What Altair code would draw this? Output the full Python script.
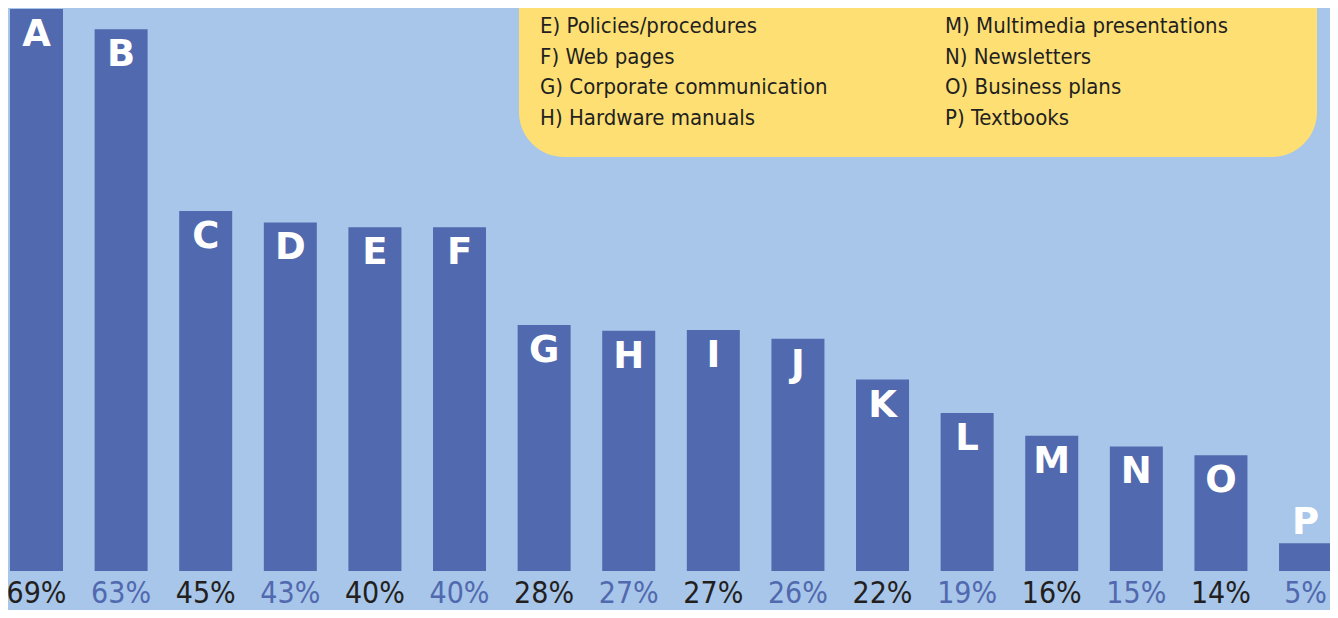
import altair as alt
import pandas as pd

# ---- data ----
letters = list("ABCDEFGHIJKLMNOP")
pct_labels = [69, 63, 45, 43, 40, 40, 28, 27, 27, 26, 22, 19, 16, 15, 14, 5]
# bar heights as drawn in the picture (in % units)
bar_heights = [69.0, 66.5, 44.2, 42.8, 42.2, 42.2, 30.2, 29.5, 29.6, 28.5,
               23.5, 19.4, 16.6, 15.3, 14.2, 3.4]
legend_left = ["D) Online information systems", "E) Policies/procedures",
               "F) Web pages", "G) Corporate communication", "H) Hardware manuals"]
legend_right = ["L)  Magazine/journal articles", "M) Multimedia presentations",
                "N)  Newsletters", "O)  Business plans", "P)  Textbooks"]

BG = "#A8C6EA"
BAR = "#5169AE"
YELLOW = "#FEDF74"
DARK = "#231F20"
COND = "'Liberation Sans Narrow', 'DejaVu Sans Condensed', sans-serif"

bars_df = pd.DataFrame({
    "idx": list(range(len(letters))),
    "letter": letters,
    "height": bar_heights,
    "label": [f"{v}%" for v in pct_labels],
})
legend_df = pd.DataFrame({
    "text": legend_left + legend_right,
    "row": list(range(5)) * 2,
    "col": [0] * 5 + [1] * 5,
})

xs = alt.Scale(domain=[-0.3369, 15.289], nice=False, zero=False, padding=0)
ys = alt.Scale(domain=[-4.788, 69.12], nice=False, zero=False, padding=0)

base = alt.Chart(bars_df).transform_calculate(
    base="0",
    clr=f"datum.idx % 2 == 1 ? '{BAR}' : '{DARK}'",
)

bars = base.mark_bar(size=53, color=BAR).encode(
    x=alt.X("idx:Q", scale=xs, axis=None),
    y=alt.Y("height:Q", scale=ys, axis=None),
    y2="base:Q",
)

letters_in = base.transform_filter("datum.height >= 10").mark_text(
    font="DejaVu Sans", fontWeight="bold", fontSize=37, color="white",
    baseline="alphabetic", dy=37
).encode(
    x=alt.X("idx:Q", scale=xs, axis=None),
    y=alt.Y("height:Q", scale=ys, axis=None),
    text="letter:N",
)
letters_out = base.transform_filter("datum.height < 10").mark_text(
    font="DejaVu Sans", fontWeight="bold", fontSize=37, color="white",
    baseline="alphabetic", dy=-9
).encode(
    x=alt.X("idx:Q", scale=xs, axis=None),
    y=alt.Y("height:Q", scale=ys, axis=None),
    text="letter:N",
)

pct = base.mark_text(
    font=COND, fontSize=30, baseline="bottom", dy=38
).encode(
    x=alt.X("idx:Q", scale=xs, axis=None),
    y=alt.Y("base:Q", scale=ys, axis=None),
    text="label:N",
    color=alt.Color("clr:N", scale=None, legend=None),
)

box = alt.Chart(bars_df).mark_rect(color=YELLOW, cornerRadius=45).encode(
    x=alt.value(511), x2=alt.value(1309), y=alt.value(-80), y2=alt.value(149)
).transform_filter("datum.idx == 0")

legend = alt.Chart(legend_df).mark_text(
    font=COND, fontSize=22, color=DARK, align="left", baseline="middle"
).encode(
    x=alt.X("col:Q", scale=alt.Scale(domain=[0, 1], range=[532, 937]), axis=None),
    y=alt.Y("row:Q", scale=alt.Scale(domain=[0, 4], range=[-12.5, 109.5]), axis=None),
    text="text:N",
)

chart = alt.layer(bars, letters_in, letters_out, pct, box, legend).resolve_scale(
    x="independent", y="independent"
).properties(
    width=1322, height=602,
    autosize=alt.AutoSizeParams(type="none"),
    padding=0,
    background=BG,
).configure_view(stroke=None)

chart.save("out.html", embed_options={"renderer": "svg", "actions": False})
